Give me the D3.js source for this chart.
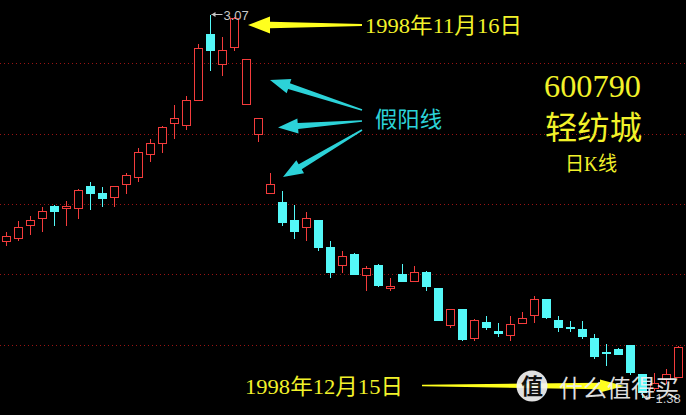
<!DOCTYPE html>
<html><head><meta charset="utf-8">
<script src="https://cdn.jsdelivr.net/npm/d3@7"></script>
<style>html,body{margin:0;padding:0;background:#000;overflow:hidden}</style>
</head><body>
<svg id="c" width="686" height="415"></svg>
<script>
// ---- data (600790 轻纺城, daily K) ----
const candles = d3.range(57); // candle index (trading days)
const opens  = [2.07,2.08,2.14,2.17,2.22,2.21,2.21,2.31,2.28,2.26,2.32,2.35,2.45,2.50,2.59,2.58,2.69,2.98,2.85,2.92,2.67,2.54,2.28,2.24,2.16,2.13,2.16,2.04,1.96,2.01,1.92,1.96,1.86,1.92,1.89,1.93,1.86,1.70,1.77,1.64,1.71,1.67,1.65,1.71,1.74,1.81,1.72,1.69,1.68,1.64,1.58,1.59,1.61,1.48,1.42,1.46,1.47];
const closes = [2.09,2.13,2.16,2.20,2.20,2.22,2.29,2.28,2.26,2.31,2.36,2.46,2.50,2.57,2.61,2.69,2.92,2.91,2.91,3.05,2.87,2.61,2.32,2.15,2.11,2.17,2.04,1.93,2.00,1.92,1.95,1.87,1.87,1.89,1.93,1.87,1.72,1.77,1.64,1.72,1.69,1.66,1.70,1.73,1.81,1.73,1.69,1.69,1.65,1.56,1.58,1.57,1.49,1.40,1.44,1.48,1.60];
const highs  = [2.11,2.16,2.18,2.22,2.23,2.25,2.30,2.33,2.31,2.31,2.37,2.48,2.52,2.58,2.67,2.71,2.94,3.07,2.97,3.06,2.87,2.61,2.37,2.29,2.23,2.20,2.16,2.07,2.03,2.02,1.96,1.97,1.91,1.97,1.96,1.94,1.86,1.77,1.77,1.73,1.74,1.71,1.74,1.76,1.83,1.81,1.74,1.72,1.72,1.66,1.62,1.60,1.61,1.48,1.49,1.51,1.61];
const lows   = [2.05,2.07,2.10,2.11,2.14,2.14,2.17,2.21,2.22,2.22,2.28,2.33,2.42,2.46,2.52,2.56,2.69,2.82,2.80,2.91,2.67,2.51,2.28,2.14,2.08,2.07,2.03,1.91,1.93,1.92,1.85,1.87,1.85,1.89,1.89,1.85,1.72,1.69,1.63,1.63,1.68,1.65,1.63,1.71,1.71,1.73,1.67,1.67,1.64,1.55,1.52,1.57,1.48,1.38,1.41,1.44,1.47];
const gridPrices = [2.85, 2.54, 2.23, 1.92, 1.61];
const maxLabel = "3.07", minLabel = "1.38";
const peakIndex = 17, lowIndex = 53;

const W = 686, H = 415;
const RED = "#f43c3c", CYAN = "#54f8f8", YEL = "#ffff1e", ACYAN = "#2cd2d8";

const svg = d3.select("#c");
svg.append("rect").attr("width", W).attr("height", H).attr("fill", "#000");

const x = d3.scaleLinear().domain([0, candles.length - 1]).range([6.5, 678.5]);
const y = d3.scaleLinear().domain([1.38, 3.07]).range([397, 13.5]);
const snap = v => Math.round(v) + 0.5;

// grid
svg.append("g").selectAll("line").data(gridPrices).join("line")
  .attr("x1", 0).attr("x2", W)
  .attr("y1", d => snap(y(d))).attr("y2", d => snap(y(d)))
  .attr("stroke", "#9a1414").attr("stroke-dasharray", "1,3");

const data = candles.map((c, i) => ({i: c, o: opens[i], c: closes[i], h: highs[i], l: lows[i]}));
const g = svg.append("g").attr("shape-rendering", "crispEdges");
const col = d => d.c > d.o ? RED : CYAN;

g.selectAll("line.w").data(data).join("line").attr("class", "w")
  .attr("x1", d => x(d.i)).attr("x2", d => x(d.i))
  .attr("y1", d => snap(y(d.h))).attr("y2", d => snap(y(d.l)))
  .attr("stroke", col);

g.selectAll("rect.b").data(data).join("rect").attr("class", "b")
  .attr("x", d => x(d.i) - 4)
  .attr("width", 8)
  .attr("y", d => snap(y(Math.max(d.o, d.c))))
  .attr("height", d => Math.max(1, Math.round(Math.abs(y(d.o) - y(d.c)))))
  .attr("fill", d => d.c > d.o ? "#000" : CYAN)
  .attr("stroke", col);

// max / min labels
function priceLabel(i, price, txt) {
  const px = x(i), py = snap(y(price));
  const lg = svg.append("g");
  lg.append("line").attr("x1", px + 1).attr("x2", px + 12).attr("y1", py).attr("y2", py)
    .attr("stroke", "#c8c8c8");
  lg.append("path").attr("d", `M${px+1},${py} l4,-2.5 v5 z`).attr("fill", "#c8c8c8");
  lg.append("text").attr("x", px + 13).attr("y", py + 5).text(txt)
    .attr("fill", "#c8c8c8").attr("font-family", "Liberation Sans, Arial, sans-serif").attr("font-size", 13);
}
priceLabel(peakIndex, highs[peakIndex], maxLabel);
priceLabel(lowIndex, lows[lowIndex], minLabel);

// arrow helper: tapered shaft + triangular head
function arrow(base, tip, headLen, headHalf, shaftTip, shaftBase, fill) {
  const dx = tip[0] - base[0], dy = tip[1] - base[1];
  const L = Math.hypot(dx, dy), ux = dx / L, uy = dy / L, nx = -uy, ny = ux;
  const hb = [tip[0] - ux * headLen, tip[1] - uy * headLen];
  const pts = [
    [base[0] + nx * shaftBase, base[1] + ny * shaftBase],
    [hb[0] + nx * shaftTip, hb[1] + ny * shaftTip],
    [hb[0] + nx * headHalf, hb[1] + ny * headHalf],
    tip,
    [hb[0] - nx * headHalf, hb[1] - ny * headHalf],
    [hb[0] - nx * shaftTip, hb[1] - ny * shaftTip],
    [base[0] - nx * shaftBase, base[1] - ny * shaftBase]
  ];
  svg.append("path").attr("d", d3.line()(pts) + "Z").attr("fill", fill);
}

// yellow arrows
arrow([362, 25], [248, 25], 22, 8.5, 3.2, 1.0, YEL);
arrow([422, 385.5], [624, 386], 24, 6.5, 3.2, 0.8, YEL);

// cyan arrows
arrow([362, 110], [270, 80], 20, 7.5, 3, 0.8, ACYAN);
arrow([362, 121], [278, 127.5], 20, 7.5, 3, 0.8, ACYAN);
arrow([362, 130], [283, 177], 20, 7.5, 3, 0.8, ACYAN);

const serif = "'Liberation Serif','Times New Roman','Noto Sans CJK SC',serif";
function txt(t, tx, ty, size, fill, family, anchor, len) {
  const s = svg.append("text").attr("x", tx).attr("y", ty).text(t)
    .attr("fill", fill).attr("font-size", size).attr("font-family", family)
    .attr("text-anchor", anchor || "start");
  if (len) s.attr("textLength", len).attr("lengthAdjust", "spacingAndGlyphs");
  return s;
}
txt("1998年11月16日", 365, 33, 22, "#f2f22a", serif, "start", 157);
txt("1998年12月15日", 245, 394, 22, "#f2f22a", serif, "start", 158);
txt("假阳线", 375, 127, 22, ACYAN, "'Noto Sans CJK SC',sans-serif", "start", 67);
txt("600790", 544, 97, 31, "#f2f22a", serif, "start", 97);
txt("轻纺城", 545, 139, 32, "#f2f22a", serif, "start", 97);
txt("日K线", 565, 171, 20, "#f2f22a", serif, "start", 52);

// watermark
const wm = svg.append("g").attr("opacity", 0.92);
wm.append("circle").attr("cx", 532).attr("cy", 386).attr("r", 15.5).attr("fill", "#f4f4f4");
wm.append("text").attr("x", 532).attr("y", 394).attr("text-anchor", "middle").text("值")
  .attr("font-size", 22).attr("font-weight", "bold").attr("fill", "#111")
  .attr("font-family", "'Noto Sans CJK SC',sans-serif");
wm.append("text").attr("x", 559).attr("y", 397).text("什么值得买")
  .attr("font-size", 24).attr("fill", "#f0f0f0").attr("font-family", "'Noto Sans CJK SC',sans-serif");
</script>
</body></html>
